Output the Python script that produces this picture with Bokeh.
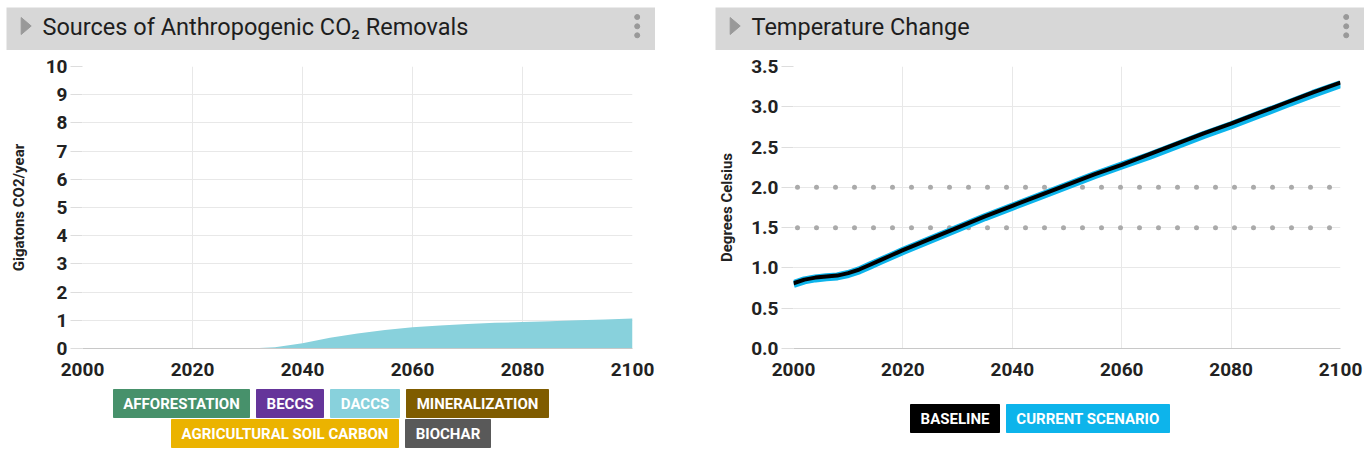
from bokeh.plotting import figure
from bokeh.layouts import row, column
from bokeh.models import Range1d, FixedTicker, PrintfTickFormatter, Span, ColumnDataSource, Spacer
from bokeh.core.properties import value
from bokeh.embed import file_html
from bokeh.resources import INLINE

# ---------------- data ----------------
removal_years = [2000, 2005, 2010, 2015, 2020, 2025, 2030, 2035, 2040, 2045, 2050,
                 2055, 2060, 2065, 2070, 2075, 2080, 2085, 2090, 2095, 2100]
afforestation = [0, 0, 0, 0, 0, 0, 0, 0, 0, 0, 0, 0, 0, 0, 0, 0, 0, 0, 0, 0, 0]
beccs = [0, 0, 0, 0, 0, 0, 0, 0, 0, 0, 0, 0, 0, 0, 0, 0, 0, 0, 0, 0, 0]
daccs = [0, 0, 0, 0, 0, 0, 0, 0.04, 0.19, 0.38, 0.53, 0.66, 0.75, 0.82, 0.87, 0.91,
         0.94, 0.97, 1.00, 1.03, 1.06]
mineralization = [0, 0, 0, 0, 0, 0, 0, 0, 0, 0, 0, 0, 0, 0, 0, 0, 0, 0, 0, 0, 0]
agricultural_soil_carbon = [0, 0, 0, 0, 0, 0, 0, 0, 0, 0, 0, 0, 0, 0, 0, 0, 0, 0, 0, 0, 0]
biochar = [0, 0, 0, 0, 0, 0, 0, 0, 0, 0, 0, 0, 0, 0, 0, 0, 0, 0, 0, 0, 0]

source_names = ["AFFORESTATION", "BECCS", "DACCS", "MINERALIZATION",
                "AGRICULTURAL SOIL CARBON", "BIOCHAR"]
source_keys = ["afforestation", "beccs", "daccs", "mineralization",
               "agricultural_soil_carbon", "biochar"]
source_colors = ["#47916b", "#65359a", "#88d1dc", "#7f5c00", "#ebb300", "#595959"]

temp_years = [2000, 2002, 2004, 2006, 2008, 2010, 2012, 2014, 2016, 2018, 2020,
              2025, 2030, 2035, 2040, 2045, 2050, 2055, 2060, 2065, 2070, 2075,
              2080, 2085, 2090, 2095, 2100]
baseline = [0.81, 0.855, 0.88, 0.895, 0.905, 0.935, 0.98, 1.04, 1.10, 1.16, 1.22,
            1.36, 1.50, 1.64, 1.77, 1.90, 2.03, 2.16, 2.28, 2.41, 2.54, 2.67,
            2.79, 2.92, 3.05, 3.18, 3.30]
current_scenario = [0.80, 0.845, 0.87, 0.885, 0.895, 0.925, 0.97, 1.03, 1.09, 1.15, 1.21,
                    1.35, 1.49, 1.63, 1.76, 1.89, 2.02, 2.15, 2.27, 2.39, 2.52, 2.65,
                    2.77, 2.90, 3.03, 3.16, 3.28]
temp_names = ["BASELINE", "CURRENT SCENARIO"]
temp_colors = ["#000000", "#0db4eb"]
thresholds = [1.5, 2.0]

x_ticks = [2000, 2020, 2040, 2060, 2080, 2100]
left_y_ticks = [0, 1, 2, 3, 4, 5, 6, 7, 8, 9, 10]
right_y_ticks = [0.0, 0.5, 1.0, 1.5, 2.0, 2.5, 3.0, 3.5]

FONT = "Roboto"
HEADER_BG = "#d7d7d7"
GRID = "#e8e8e8"


def header(title, width):
    h = figure(width=width, height=43, x_range=Range1d(0, width), y_range=Range1d(43, 0),
               x_axis_location=None, y_axis_location=None, min_border=0,
               toolbar_location=None, output_backend="svg", frame_align=False,
               background_fill_color=HEADER_BG, border_fill_color=HEADER_BG,
               outline_line_color=None)
    h.grid.visible = False
    h.patch(x=[14.7, 24.7, 14.7], y=[10, 18.5, 27], color="#999999")
    h.text(x=[36], y=[19.5], text=[title], text_font=value(FONT),
           text_font_size="23.5px", text_color="#1e1e1e", text_baseline="alphabetic")
    h.scatter(x=[width - 18.3] * 3, y=[9.5, 18.8, 27.8], size=5, color="#999999")
    return h


def style_axes(p, ylabel, label_standoff):
    p.xaxis.ticker = FixedTicker(ticks=x_ticks)
    p.xgrid.ticker = FixedTicker(ticks=x_ticks)
    for ax in (p.xaxis[0], p.yaxis[0]):
        ax.major_label_text_font = FONT
        ax.major_label_text_font_style = "bold"
        ax.major_label_text_font_size = "19px"
        ax.major_label_text_color = "#222222"
        ax.minor_tick_line_color = None
        ax.major_tick_in = 0
    p.xaxis.axis_line_color = "#c8c8c8"
    p.xaxis.major_tick_out = 0
    p.xaxis.major_label_standoff = 14
    p.yaxis.axis_line_color = None
    p.yaxis.major_tick_out = 12
    p.yaxis.major_tick_line_color = "#dddddd"
    p.yaxis.major_label_standoff = 3
    p.yaxis.axis_label = ylabel
    p.yaxis.axis_label_text_font = FONT
    p.yaxis.axis_label_text_font_style = "bold"
    p.yaxis.axis_label_text_font_size = "15px"
    p.yaxis.axis_label_text_color = "#222222"
    p.yaxis.axis_label_standoff = label_standoff
    p.grid.grid_line_color = GRID


def legend_fig(width, lefts, rights, tops, bottoms, names, colors):
    lg = figure(width=width, height=65, x_range=Range1d(0, width), y_range=Range1d(65, 0),
                x_axis_location=None, y_axis_location=None, min_border=0,
                toolbar_location=None, output_backend="svg", outline_line_color=None,
                frame_align=False)
    lg.grid.visible = False
    lg.quad(left=lefts, right=rights, top=tops, bottom=bottoms, color=colors)
    lg.text(x=[(a + b) / 2 for a, b in zip(lefts, rights)],
            y=[(a + b) / 2 for a, b in zip(tops, bottoms)],
            text=names, text_align="center", text_baseline="middle",
            text_color="white", text_font=value(FONT), text_font_style="bold",
            text_font_size="15px")
    return lg


# ---------------- left panel ----------------
W = 649
h1 = header("Sources of Anthropogenic CO\u2082 Removals", W)

src = ColumnDataSource(dict(year=removal_years, afforestation=afforestation, beccs=beccs,
                            daccs=daccs, mineralization=mineralization,
                            agricultural_soil_carbon=agricultural_soil_carbon,
                            biochar=biochar))
p1 = figure(width=W, height=335, x_range=Range1d(2000, 2100), y_range=Range1d(0, 10),
            min_border_left=72, min_border_right=23, min_border_top=16,
            min_border_bottom=37, toolbar_location=None, output_backend="svg",
            outline_line_color=None, frame_align=False)
p1.varea_stack(stackers=source_keys, x="year", color=source_colors, source=src)
style_axes(p1, "Gigatons CO2/year", 15)
p1.yaxis.ticker = FixedTicker(ticks=left_y_ticks)
p1.ygrid.ticker = FixedTicker(ticks=left_y_ticks)

lg1 = legend_fig(W,
                 [107, 250, 324, 400, 165, 399],
                 [243, 317, 393, 542, 392, 484],
                 [4, 4, 4, 4, 34, 34],
                 [32, 32, 32, 32, 62, 62],
                 source_names, source_colors)

# ---------------- right panel ----------------
h2 = header("Temperature Change", W)

p2 = figure(width=W, height=335, x_range=Range1d(2000, 2100), y_range=Range1d(0, 3.5),
            min_border_left=77, min_border_right=24, min_border_top=16,
            min_border_bottom=37, toolbar_location=None, output_backend="svg",
            outline_line_color=None, frame_align=False)
style_axes(p2, "Degrees Celsius", 12)
p2.yaxis.ticker = FixedTicker(ticks=right_y_ticks)
p2.ygrid.ticker = FixedTicker(ticks=right_y_ticks)
p2.yaxis.formatter = PrintfTickFormatter(format="%.1f")
for t in thresholds:
    p2.add_layout(Span(location=t, dimension="width", line_color="#aaaaaa",
                       line_width=5, line_dash="0 19", line_dash_offset=15,
                       line_cap="round", level="underlay"))
p2.line(temp_years, current_scenario, color=temp_colors[1], line_width=8,
        line_join="round")
p2.line(temp_years, baseline, color=temp_colors[0], line_width=4, line_join="round")

lg2 = legend_fig(W, [195, 291], [284, 454], [19, 19], [47, 47], temp_names, temp_colors)

layout = column(Spacer(height=7),
                row(Spacer(width=6), column(h1, p1, lg1), Spacer(width=60),
                    column(h2, p2, lg2)))

open("out.html", "w").write(file_html(layout, INLINE))
